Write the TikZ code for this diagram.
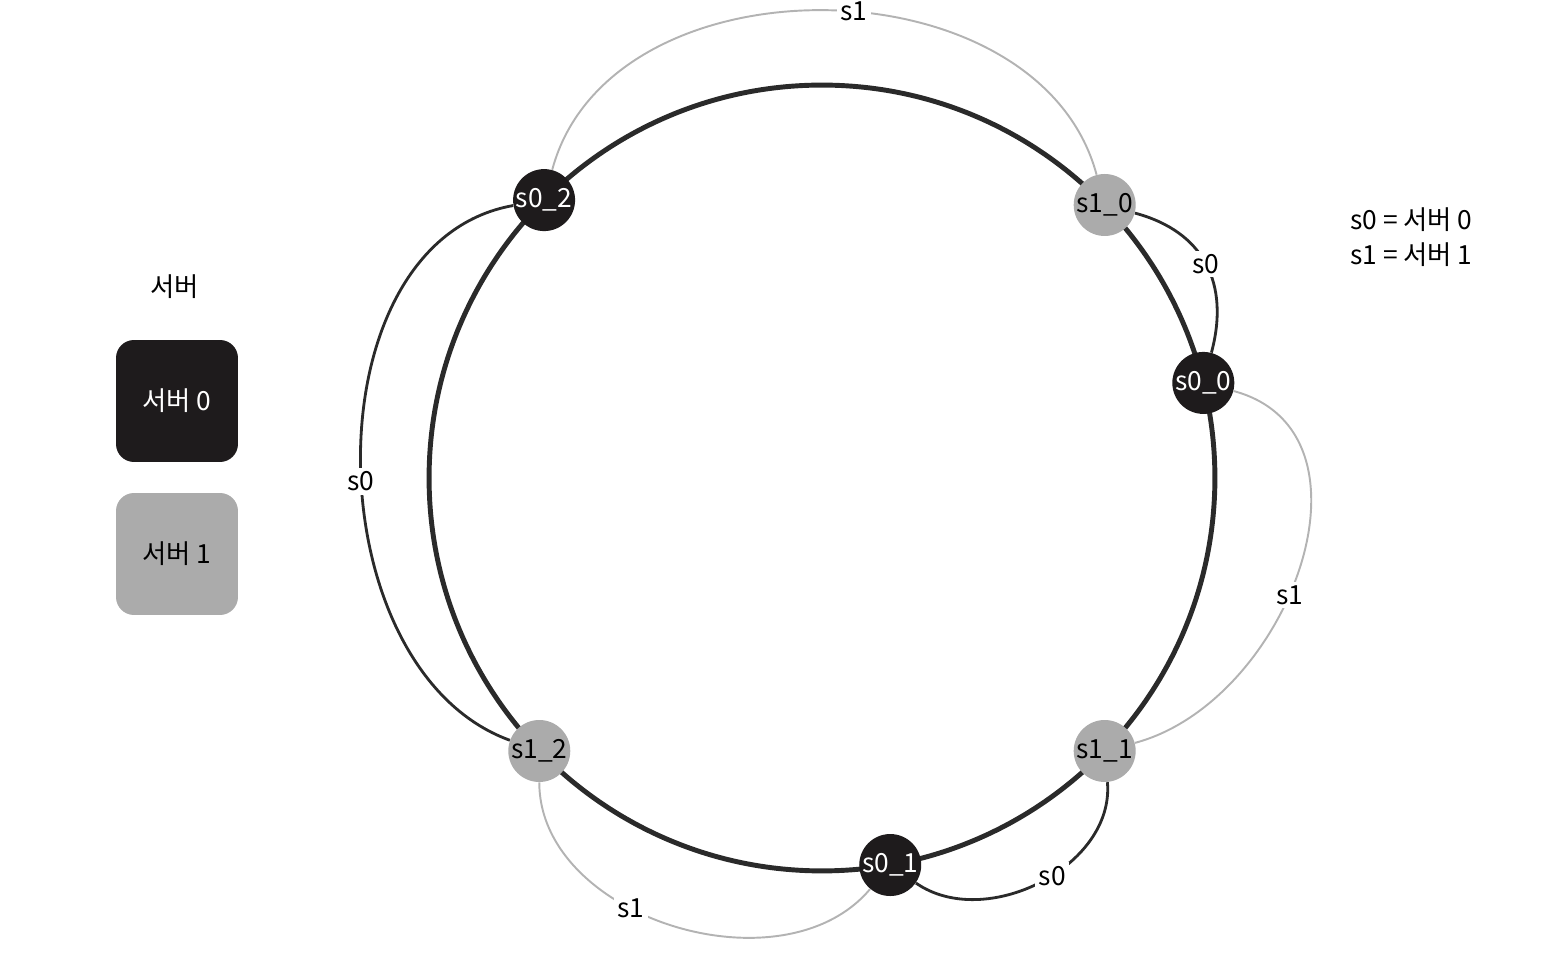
\documentclass[tikz,border=0pt]{standalone}
\usepackage{fontspec}
\setmainfont{Noto Sans CJK KR}
\usetikzlibrary{shapes,arrows}
\definecolor{srvdark}{HTML}{1E1B1C}
\definecolor{srvlight}{HTML}{ABABAB}
\definecolor{ringgray}{HTML}{2A2A2A}
\definecolor{arcgray}{HTML}{B3B3B3}

\begin{document}
\begin{tikzpicture}[x=0.02cm, y=0.02cm,
  srvA/.style={circle, fill=srvdark, text=white, minimum size=1.24cm, inner sep=0pt, font=\fontsize{15}{15}\selectfont},
  srvB/.style={circle, fill=srvlight, text=black, minimum size=1.24cm, inner sep=0pt, font=\fontsize{15}{15}\selectfont},
  lbl/.style={fill=white, inner sep=2pt, font=\fontsize{15}{15}\selectfont},
  own/.style={line width=1.6pt, draw=ringgray},
  lend/.style={line width=1.1pt, draw=arcgray},
  keybox/.style={rounded corners=0.36cm, minimum size=2.44cm, inner sep=0pt, font=\fontsize{15}{15}\selectfont}]
\useasboundingbox (-822,-484) rectangle (730,478);
% hash ring
\draw [line width=2.8pt, ringgray] (0,0) circle [radius=7.86cm];
% virtual nodes of server 0 and server 1
\node[srvA] (s00) at (14:393) {s0\_0};
\node[srvA] (s01) at (-80:393) {s0\_1};
\node[srvA] (s02) at (135:393) {s0\_2};
\node[srvB] (s10) at (44:393) {s1\_0};
\node[srvB] (s11) at (-44:393) {s1\_1};
\node[srvB] (s12) at (-136:393) {s1\_2};
% ranges owned by each server
\draw [lend] (s02) to[out=75, in=105, looseness=1.05] node[lbl, pos=0.54] {s1} (s10);
\draw [own] (s10) to[out=-15, in=75, looseness=1.15] node[lbl] {s0} (s00);
\draw [lend] (s00) to[out=-15, in=15, looseness=1.12] node[lbl, pos=0.56] {s1} (s11);
\draw [own] (s11) to[out=-85, in=-35] node[lbl, pos=0.45] {s0} (s01);
\draw [lend] (s01) to[out=-130, in=-90] node[lbl, pos=0.6] {s1} (s12);
\draw [own] (s12) to[out=160, in=190] node[lbl, pos=0.47] {s0} (s02);
% legend
\node[font=\fontsize{15}{15}\selectfont] (key) at (-647,191) {서버};
\node[keybox, fill=srvdark, text=white] (key0) at (-645,77) {서버 0};
\node[keybox, fill=srvlight, text=black] (key1) at (-645,-76) {서버 1};
\node[anchor=west, align=left, font=\fontsize{15}{20}\selectfont] (note) at (522,241) {s0 = 서버 0\\s1 = 서버 1};
\end{tikzpicture}
\end{document}
